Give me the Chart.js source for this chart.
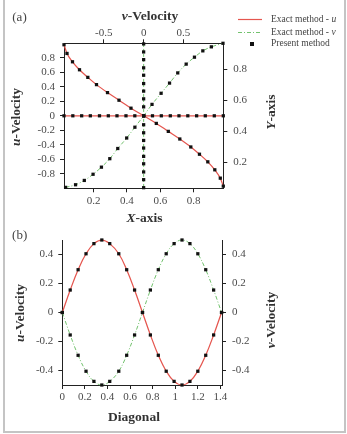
<!DOCTYPE html>
<html>
<head>
<meta charset="utf-8">
<script src="https://cdn.jsdelivr.net/npm/chart.js@4/dist/chart.umd.min.js"></script>
<style>
  body { margin: 0; width: 347px; height: 434px; background: #fff; position: relative; overflow: hidden; }
  #frame { position: absolute; left: 3px; top: -3px; width: 339px; height: 432px; border: 2px solid #c4c4c4; }
  .box { position: absolute; left: 0; width: 347px; }
  .t { position: absolute; transform: translate(-50%, -50%); font: bold 13.5px 'Liberation Serif', 'Times New Roman', serif; color: #333; white-space: nowrap; }
  .rot { transform: translate(-50%, -50%) rotate(-90deg); }
  .tag { font-weight: normal; font-size: 13px; color: #444; }
  .leg { position: absolute; font: 9.5px 'Liberation Serif', 'Times New Roman', serif; color: #444; white-space: nowrap; transform: translateY(-50%); }
</style>
</head>
<body>
<div id="frame"></div>
<div class="box" style="top:0;height:225px"><canvas id="chartA" width="347" height="225"></canvas></div>
<div class="box" style="top:225px;height:209px"><canvas id="chartB" width="347" height="209"></canvas></div>

<div class="t tag" style="left:19.5px;top:16.7px">(a)</div>
<div class="t" style="left:150px;top:15.7px"><i>v</i>-Velocity</div>
<div class="t" style="left:144.5px;top:218px"><i>X</i>-axis</div>
<div class="t rot" style="left:16px;top:116.5px"><i>u</i>-Velocity</div>
<div class="t rot" style="left:270.5px;top:112px"><i>Y</i>-axis</div>

<div class="t tag" style="left:19.7px;top:235px">(b)</div>
<div class="t rot" style="left:20px;top:312.5px"><i>u</i>-Velocity</div>
<div class="t rot" style="left:271px;top:320px"><i>v</i>-Velocity</div>
<div class="t" style="left:134px;top:416.7px">Diagonal</div>

<svg style="position:absolute;left:238px;top:17px" width="25" height="5"><line x1="0" y1="2.5" x2="24" y2="2.5" stroke="#e5564f" stroke-width="1.2"/></svg>
<div class="leg" style="left:271px;top:19.3px">Exact method - <i>u</i></div>
<svg style="position:absolute;left:238px;top:30px" width="25" height="5"><line x1="0" y1="2.5" x2="24" y2="2.5" stroke="#73c26e" stroke-width="1" stroke-dasharray="4 2 1 2"/></svg>
<div class="leg" style="left:271px;top:32.3px">Exact method - <i>v</i></div>
<div style="position:absolute;left:250px;top:41.5px;width:4px;height:4px;background:#111"></div>
<div class="leg" style="left:271px;top:43.3px">Present method</div>

<script>
// ---- panel (a): centre-line profiles ----
const uX   = [0.022, 0.04, 0.073, 0.115, 0.165, 0.217, 0.283, 0.352, 0.424, 0.5, 0.576, 0.648, 0.717, 0.783, 0.835, 0.885, 0.927, 0.96, 0.978];
const uVel = [0.98, 0.86, 0.745, 0.635, 0.53, 0.43, 0.32, 0.215, 0.105, 0, -0.105, -0.215, -0.32, -0.43, -0.53, -0.635, -0.745, -0.86, -0.97];

const vY   = [0.036, 0.053, 0.081, 0.121, 0.167, 0.222, 0.288, 0.356, 0.426, 0.5, 0.574, 0.646, 0.712, 0.778, 0.835, 0.88, 0.921, 0.947, 0.97];
const vVel = [-0.98, -0.855, -0.745, -0.635, -0.53, -0.425, -0.325, -0.213, -0.11, 0, 0.105, 0.219, 0.325, 0.428, 0.534, 0.638, 0.743, 0.85, 0.996];

// flat profiles (u = 0 along X, v = 0 along Y)
const hLineX = [0.022, 0.075, 0.128, 0.18, 0.235, 0.288, 0.34, 0.394, 0.447, 0.5, 0.553, 0.606, 0.66, 0.712, 0.765, 0.818, 0.87, 0.924, 0.978];
const hLineU = [0, 0, 0, 0, 0, 0, 0, 0, 0, 0, 0, 0, 0, 0, 0, 0, 0, 0, 0];
const vLineY = [0.966, 0.914, 0.864, 0.811, 0.763, 0.709, 0.66, 0.61, 0.558, 0.5, 0.442, 0.39, 0.34, 0.291, 0.237, 0.189, 0.136, 0.086, 0.034];
const vLineV = [0, 0, 0, 0, 0, 0, 0, 0, 0, 0, 0, 0, 0, 0, 0, 0, 0, 0, 0];

const aBottomTicks = [0.2, 0.4, 0.6, 0.8];
const aLeftTicks   = [-0.8, -0.6, -0.4, -0.2, 0, 0.2, 0.4, 0.6, 0.8];
const aTopTicks    = [-0.5, 0, 0.5];
const aRightTicks  = [0.2, 0.4, 0.6, 0.8];

// ---- panel (b): along the diagonal ----
const diag  = [0, 0.07, 0.14, 0.21, 0.28, 0.35, 0.42, 0.5, 0.57, 0.64, 0.71, 0.78, 0.85, 0.92, 0.99, 1.06, 1.13, 1.2, 1.27, 1.34, 1.41];
const uDiag = [0, 0.155, 0.295, 0.405, 0.475, 0.5, 0.475, 0.405, 0.295, 0.155, 0, -0.155, -0.295, -0.405, -0.475, -0.5, -0.475, -0.405, -0.295, -0.155, 0];
const vDiag = [0, -0.155, -0.295, -0.405, -0.475, -0.5, -0.475, -0.405, -0.295, -0.155, 0, 0.155, 0.295, 0.405, 0.475, 0.5, 0.475, 0.405, 0.295, 0.155, 0];

const bBottomTicks = [0, 0.2, 0.4, 0.6, 0.8, 1, 1.2, 1.4];
const bSideTicks   = [-0.4, -0.2, 0, 0.2, 0.4];

const RED = '#e5564f';
const GREEN = '#73c26e';

Chart.defaults.font.family = "'Liberation Serif', 'Times New Roman', serif";
Chart.defaults.font.size = 11;
Chart.defaults.color = '#4a4a4a';

const pts = (xs, ys) => xs.map((x, i) => ({ x: x, y: ys[i] }));
const fmt = v => String(Number(v.toFixed(2)));

// one axis with fixed tick list and fixed thickness
function axis(position, min, max, tickList, size, pad) {
    const horizontal = position === 'top' || position === 'bottom';
    return {
        type: 'linear',
        axis: horizontal ? 'x' : 'y',
        position: position,
        min: min,
        max: max,
        afterBuildTicks: s => { s.ticks = tickList.map(v => ({ value: v })); },
        afterFit: s => { if (horizontal) s.height = size; else s.width = size; },
        grid: { display: true, drawOnChartArea: false, drawTicks: true, tickLength: 4, color: '#222', lineWidth: 1 },
        border: { display: true, color: '#222', width: 1 },
        ticks: { autoSkip: false, maxRotation: 0, padding: pad, callback: v => fmt(v) }
    };
}

const markers = (data, xId, yId) => ({
    data: data, xAxisID: xId, yAxisID: yId, showLine: false, clip: false,
    pointStyle: 'rect', pointRadius: 2.3, pointBorderWidth: 0, pointBackgroundColor: '#111'
});

const curve = (data, xId, yId, color, dash, extra) => Object.assign({
    data: data, xAxisID: xId, yAxisID: yId, borderColor: color, borderWidth: 1.25,
    borderDash: dash, pointRadius: 0, clip: false
}, extra || {});

const common = {
    responsive: false,
    animation: false,
    events: [],
    plugins: { legend: { display: false }, tooltip: { enabled: false } }
};

// Panel (a)
new Chart(document.getElementById('chartA'), {
    type: 'line',
    data: {
        datasets: [
            markers(pts(uX, uVel), 'x', 'y'),
            markers(pts(hLineX, hLineU), 'x', 'y'),
            markers(pts(vVel, vY), 'x2', 'y2'),
            markers(pts(vLineV, vLineY), 'x2', 'y2'),
            curve(pts(uX, uVel), 'x', 'y', RED, [], { cubicInterpolationMode: 'monotone' }),
            curve(pts(hLineX, hLineU), 'x', 'y', RED, []),
            curve(pts(vVel, vY), 'x2', 'y2', GREEN, [4, 2, 1, 2], { cubicInterpolationMode: 'monotone', borderWidth: 1 }),
            curve(pts(vLineV, vLineY), 'x2', 'y2', GREEN, [3, 2], { borderWidth: 1 })
        ]
    },
    options: Object.assign({}, common, {
        layout: { padding: 0, autoPadding: false },
        scales: {
            x:  axis('bottom', 0.022, 0.978, aBottomTicks, 36.7, 2),
            y:  axis('left', -1, 1, aLeftTicks, 64, 5),
            x2: axis('top', -1, 1, aTopTicks, 43.3, 0),
            y2: axis('right', 0.03, 0.97, aRightTicks, 123.7, 6)
        }
    })
});

// Panel (b)
new Chart(document.getElementById('chartB'), {
    type: 'line',
    data: {
        datasets: [
            markers(pts(diag, uDiag), 'x', 'y'),
            markers(pts(diag, vDiag), 'x', 'y2'),
            curve(pts(diag, uDiag), 'x', 'y', RED, [], { tension: 0.4 }),
            curve(pts(diag, vDiag), 'x', 'y2', GREEN, [4, 2, 1, 2], { tension: 0.4, borderWidth: 1 })
        ]
    },
    options: Object.assign({}, common, {
        layout: { padding: { top: 15, left: 0, right: 0, bottom: 0 }, autoPadding: false },
        scales: {
            x:  axis('bottom', 0, 1.414, bBottomTicks, 49, 2),
            y:  axis('left', -0.5, 0.5, bSideTicks, 62.3, 5),
            y2: axis('right', -0.5, 0.5, bSideTicks, 125, 6)
        }
    })
});
</script>
</body>
</html>
